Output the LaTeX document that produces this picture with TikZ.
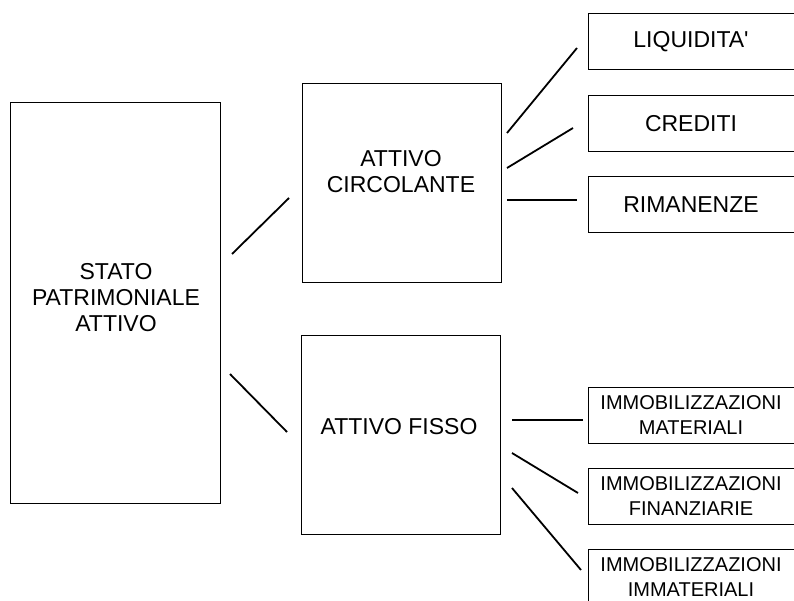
\documentclass[tikz,border=0pt]{standalone}
\usepackage{fontspec}
\setmainfont{Liberation Sans}[Ligatures=TeXOff]
\begin{document}
\begin{tikzpicture}[x=1pt,y=-1pt,font=\fontsize{23}{26}\selectfont,
    box/.style={draw,line width=0.8pt,inner sep=0pt},
    leaf/.style={box,minimum width=206,minimum height=56,align=center},
    small/.style={font=\fontsize{20}{25}\selectfont},
    conn/.style={line width=1.8pt}]
                \useasboundingbox (0,0) rectangle (794,601);
                % main boxes
                \node[box,minimum width=210,minimum height=401] (spa) at (115,302.5) {};
                \node[align=center] (spaL) at (116,298) {STATO\\PATRIMONIALE\\ATTIVO};
                \node[box,minimum width=199,minimum height=199] (ac) at (401.5,182.5) {};
                \node[align=center] (acL) at (401,172) {ATTIVO\\CIRCOLANTE};
                \node[box,minimum width=199,minimum height=199] (af) at (400.5,434.5) {};
                \node (afL) at (399,427) {ATTIVO FISSO};
                % right boxes
                \node[leaf] (liq) at (691,41.5) {LIQUIDITA'};
                \node[leaf] (cre) at (691,123.5) {CREDITI};
                \node[leaf] (rim) at (691,204.5) {RIMANENZE};
                \node[leaf,small] (mat) at (691,415) {IMMOBILIZZAZIONI\\MATERIALI};
                \node[leaf,small] (fin) at (691,496) {IMMOBILIZZAZIONI\\FINANZIARIE};
                \node[leaf,small] (imm) at (691,577) {IMMOBILIZZAZIONI\\IMMATERIALI};
                % connector ends
                \coordinate (spaA) at (232,254);
                \coordinate (acA) at (289,198);
                \coordinate (spaB) at (230,374);
                \coordinate (afA) at (287,432);
                \coordinate (acB) at (507,133);
                \coordinate (liqA) at (577,48);
                \coordinate (acC) at (507,168);
                \coordinate (creA) at (573,128);
                \coordinate (acD) at (507,200);
                \coordinate (rimA) at (577,200);
                \coordinate (afB) at (512,420);
                \coordinate (matA) at (583,420);
                \coordinate (afC) at (512,453);
                \coordinate (finA) at (578,493);
                \coordinate (afD) at (512,488);
                \coordinate (immA) at (581,570);
                \draw[conn] (spaA)--(acA);
                \draw[conn] (spaB)--(afA);
                \draw[conn] (acB)--(liqA);
                \draw[conn] (acC)--(creA);
                \draw[conn] (acD)--(rimA);
                \draw[conn] (afB)--(matA);
                \draw[conn] (afC)--(finA);
                \draw[conn] (afD)--(immA);
            \end{tikzpicture}
\end{document}
